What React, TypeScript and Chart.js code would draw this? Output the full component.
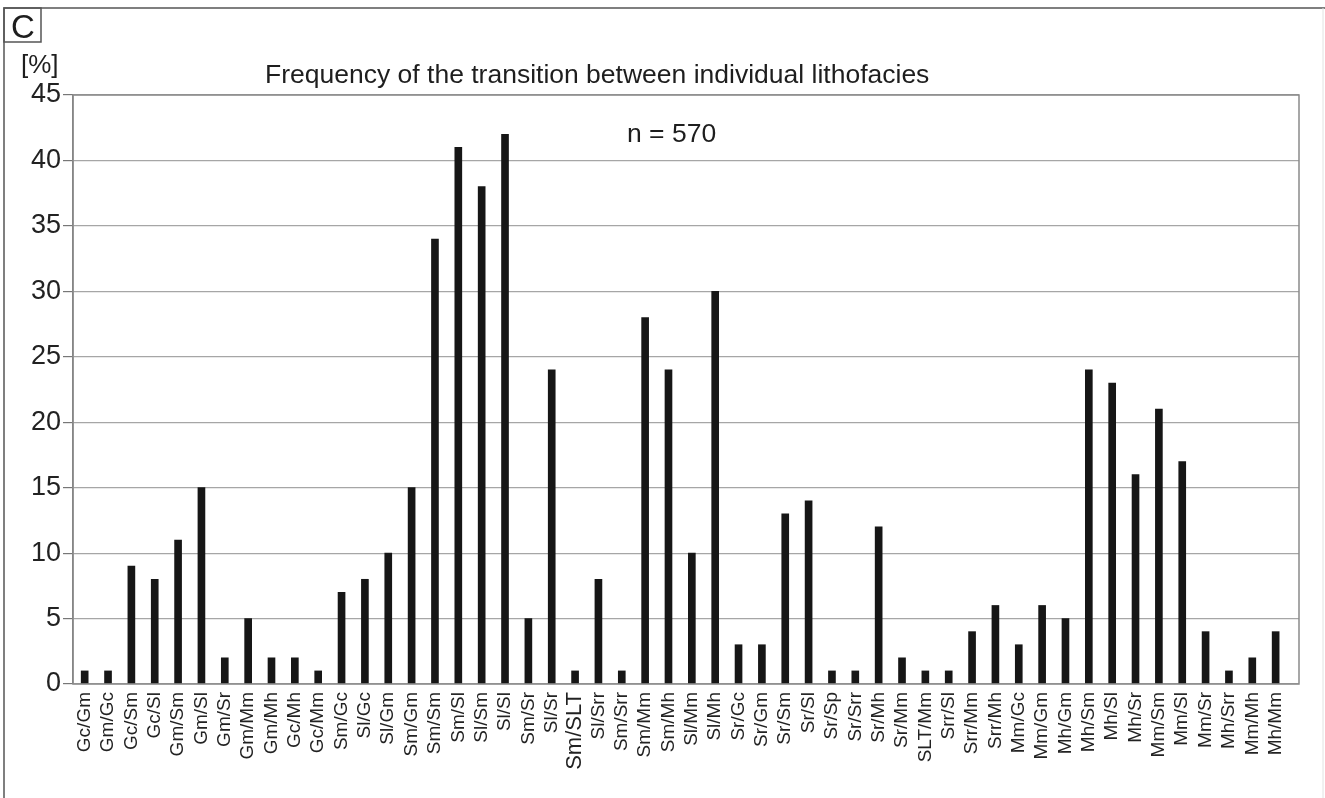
import React, { useEffect, useRef } from "react";
import { Chart, registerables } from "chart.js";

Chart.register(...registerables);

const categories = [
  "Gc/Gm", "Gm/Gc", "Gc/Sm", "Gc/Sl", "Gm/Sm", "Gm/Sl", "Gm/Sr", "Gm/Mm", "Gm/Mh", "Gc/Mh",
  "Gc/Mm", "Sm/Gc", "Sl/Gc", "Sl/Gm", "Sm/Gm", "Sm/Sm", "Sm/Sl", "Sl/Sm", "Sl/Sl", "Sm/Sr",
  "Sl/Sr", "Sm/SLT", "Sl/Srr", "Sm/Srr", "Sm/Mm", "Sm/Mh", "Sl/Mm", "Sl/Mh", "Sr/Gc", "Sr/Gm",
  "Sr/Sm", "Sr/Sl", "Sr/Sp", "Sr/Srr", "Sr/Mh", "Sr/Mm", "SLT/Mm", "Srr/Sl", "Srr/Mm", "Srr/Mh",
  "Mm/Gc", "Mm/Gm", "Mh/Gm", "Mh/Sm", "Mh/Sl", "Mh/Sr", "Mm/Sm", "Mm/Sl", "Mm/Sr", "Mh/Srr",
  "Mm/Mh", "Mh/Mm",
];

const frequencies = [
  1, 1, 9, 8, 11, 15, 2, 5, 2, 2,
  1, 7, 8, 10, 15, 34, 41, 38, 42, 5,
  24, 1, 8, 1, 28, 24, 10, 30, 3, 3,
  13, 14, 1, 1, 12, 2, 1, 1, 4, 6,
  3, 6, 5, 24, 23, 16, 21, 17, 4, 1,
  2, 4,
];

const yTicks = [0, 5, 10, 15, 20, 25, 30, 35, 40, 45];

const titleText = "Frequency of the transition between individual lithofacies";
const sampleText = "n = 570";
const unitText = "[%]";
const panelText = "C";

const FONT = '"Liberation Sans", Arial, Helvetica, sans-serif';

const decorPlugin = {
  id: "decor",
  afterDraw(chart: any) {
    const ctx = chart.ctx as CanvasRenderingContext2D;
    const a = chart.chartArea;
    ctx.save();
    // plot border
    ctx.strokeStyle = "#8a8a8a";
    ctx.lineWidth = 1.5;
    ctx.strokeRect(a.left, a.top, a.right - a.left, a.bottom - a.top);
    // outer frame
    ctx.strokeStyle = "#555";
    ctx.lineWidth = 1.5;
    ctx.beginPath();
    ctx.moveTo(4, 798);
    ctx.lineTo(4, 8);
    ctx.lineTo(1325, 8);
    ctx.stroke();
    ctx.strokeStyle = "#e2e2e2";
    ctx.lineWidth = 1;
    ctx.beginPath();
    ctx.moveTo(1323, 8);
    ctx.lineTo(1323, 798);
    ctx.stroke();
    // panel letter box
    ctx.strokeStyle = "#555";
    ctx.lineWidth = 1.5;
    ctx.strokeRect(4, 8, 37, 34);
    ctx.fillStyle = "#1e1e1e";
    ctx.font = `33px ${FONT}`;
    ctx.textAlign = "center";
    ctx.textBaseline = "alphabetic";
    ctx.fillText(panelText, 23, 38);
    // unit label
    ctx.textAlign = "left";
    ctx.font = `26px ${FONT}`;
    ctx.fillText(unitText, 21, 73);
    // title
    ctx.font = `26.5px ${FONT}`;
    ctx.fillText(titleText, 265, 83);
    // n
    ctx.font = `26.5px ${FONT}`;
    ctx.fillText(sampleText, 627, 142);
    ctx.restore();
  },
};

export default function App() {
  const canvasRef = useRef<HTMLCanvasElement | null>(null);

  useEffect(() => {
    document.body.style.margin = "0";
    const canvas = canvasRef.current;
    if (!canvas) return;
    const chart = new Chart(canvas, {
      type: "bar",
      data: {
        datasets: [
          {
            data: frequencies.map((v, i) => ({ x: i, y: v })),
            backgroundColor: "#161616",
            borderWidth: 0,
            barThickness: 7,
          },
        ],
      },
      options: {
        animation: false,
        responsive: false,
        maintainAspectRatio: false,
        layout: { padding: { top: 95, right: 26, left: 0, bottom: 0 } },
        plugins: {
          legend: { display: false },
          tooltip: { enabled: false },
          title: { display: false },
        },
        scales: {
          x: {
            type: "linear",
            min: -0.5,
            max: categories.length,
            offset: false,
            grid: { display: false, drawTicks: false },
            border: { display: false },
            afterBuildTicks: (scale: any) => {
              scale.ticks = categories.map((_, i) => ({ value: i }));
            },
            ticks: {
              autoSkip: false,
              maxRotation: 90,
              minRotation: 90,
              padding: 8,
              color: "#222",
              font: (ctx: any) => ({
                family: FONT,
                size: ctx.tick && categories[ctx.tick.value] === "Sm/SLT" ? 22 : 19,
              }),
              callback: (v: any) => categories[v] ?? "",
            },
            afterFit: (scale: any) => {
              scale.height = 114;
            },
          },
          y: {
            min: 0,
            max: 45,
            afterBuildTicks: (scale: any) => {
              scale.ticks = yTicks.map((v) => ({ value: v }));
            },
            grid: {
              color: "#a6a6a6",
              lineWidth: 1.2,
              tickLength: 10,
              tickColor: "#777",
            },
            border: { color: "#7a7a7a", width: 1.5 },
            ticks: {
              color: "#222",
              padding: 2,
              font: { family: FONT, size: 27 },
            },
            afterFit: (scale: any) => {
              scale.width = 73;
            },
          },
        },
      } as any,
      plugins: [decorPlugin],
    });
    return () => chart.destroy();
  }, []);

  return (
    <div style={{ position: "fixed", left: 0, top: 0, width: 1325, height: 798, background: "#fff" }}>
      <canvas ref={canvasRef} width={1325} height={798} style={{ width: 1325, height: 798 }} />
    </div>
  );
}
